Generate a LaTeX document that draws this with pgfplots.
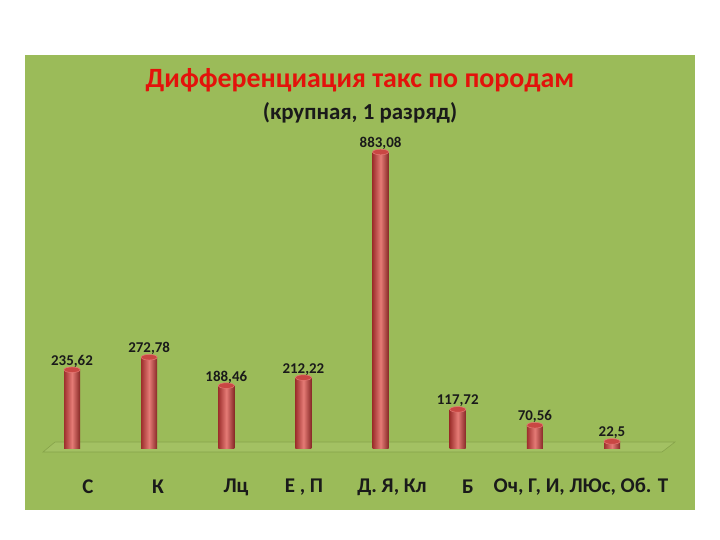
\documentclass[border=0pt]{standalone}
\usepackage{pgfplots}
\pgfplotsset{compat=1.18}
\usepackage{fontspec}
\setmainfont{Carlito}

\definecolor{Panel}{HTML}{9BBB59}
\definecolor{Floor}{HTML}{A3C163}
\definecolor{FloorEdge}{HTML}{86A34A}
\definecolor{TitleRed}{HTML}{E3120B}
\definecolor{BarDark}{HTML}{9E302D}
\definecolor{BarLight}{HTML}{E57B76}
\definecolor{BarTop}{HTML}{C94743}
\definecolor{Ink}{HTML}{1A1A1A}

\pgfplotstableread{
x  v
0  235.62
1  272.78
2  188.46
3  212.22
4  883.08
5  117.72
6  70.56
7  22.5
}\taxes

\begin{document}
\begin{tikzpicture}[x=1bp,y=1bp]
  \useasboundingbox (0,0) rectangle (720,540);
  \fill[white] (0,0) rectangle (720,540);
  \fill[Panel] (25,30) rectangle (695,485);
  % floor of the 3d plot area
  \filldraw[fill=Floor, draw=FloorEdge, line width=0.6bp]
    (43,88) -- (662,88) -- (675,98) -- (55,98) -- cycle;

  \node[font=\bfseries\fontsize{28}{32}\selectfont, text=TitleRed] at (360,460)
    {Дифференциация такс по породам};
  \node[font=\bfseries\fontsize{23}{26}\selectfont, text=Ink] at (360,427)
    {(крупная, 1 разряд)};

  \begin{axis}[
    at={(-5.14bp,91bp)}, anchor=south west,
    scale only axis, width=694.3bp, height=336.3bp,
    xmin=-1, xmax=8, ymin=0, ymax=1000,
    axis lines=none, clip=false,
    xtick=\empty,
  ]
    % one plot per bar so each cylinder gets its own shading
    \pgfplotsinvokeforeach{0,...,7}{
      \addplot[ybar, bar width=16bp, bar shift=0pt, draw=none,
               left color=BarDark, right color=BarDark!85!black, middle color=BarLight,
               restrict x to domain=#1:#1]
        table[x=x, y=v] {\taxes};
    }
    \addplot[only marks, mark=*, mark size=8bp,
             mark options={fill=BarTop, draw=BarLight, line width=0.5bp, yscale=0.35},
             nodes near coords={\pgfmathprintnumber[use comma, fixed, precision=2,
               1000 sep={}, assume math mode=true]{\pgfplotspointmeta}},
             every node near coord/.append style={font=\bfseries\fontsize{15}{17}\selectfont,
               text=Ink, anchor=south, yshift=-1bp}]
      table[x=x, y=v] {\taxes};
  \end{axis}

  % category labels under the floor
  \foreach \lab/\px in {С/88, К/158, Лц/236, {Е , П}/304, {Д. Я, Кл}/392, Б/468,
                       {Оч, Г, И, ЛЮс, Об. Т}/581} {
    \node[font=\bfseries\fontsize{21}{24}\selectfont, text=Ink] at (\px,53) {\lab};
  }
\end{tikzpicture}
\end{document}
